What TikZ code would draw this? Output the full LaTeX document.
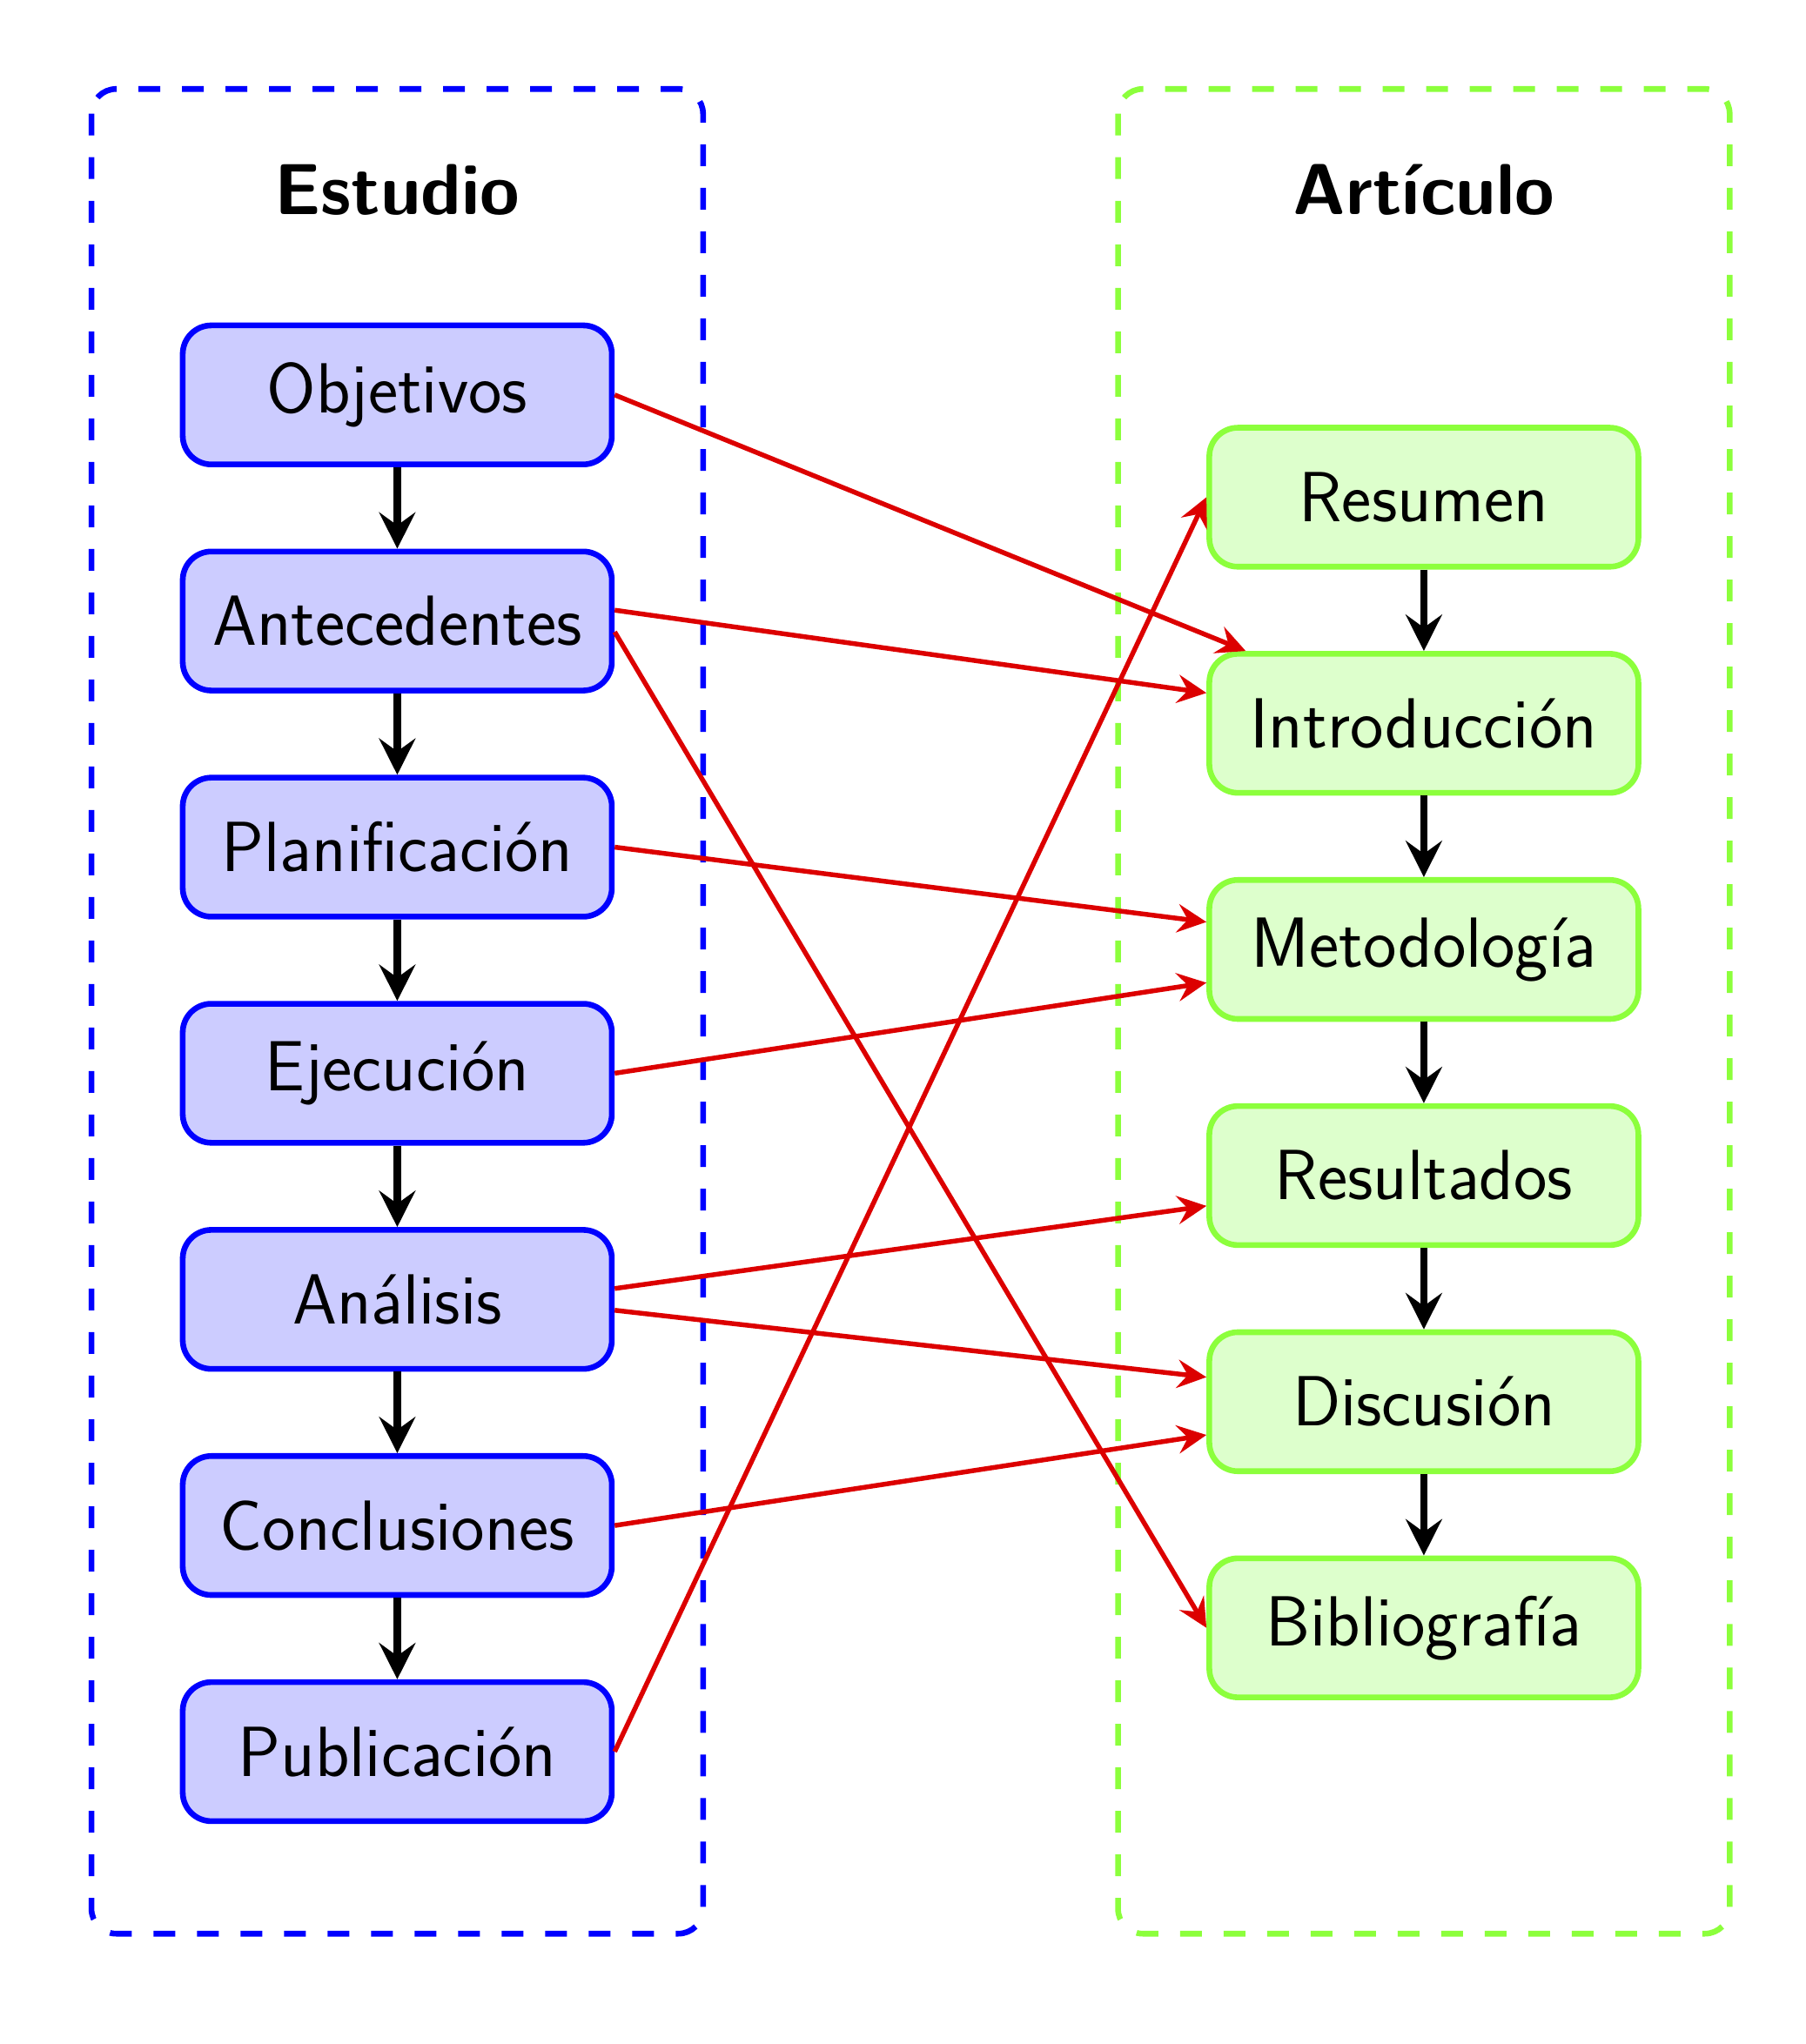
\documentclass[tikz,border=0pt]{standalone}
\usepackage{fontspec}
\usepackage{xcolor}
\usepackage{tikz}
\usetikzlibrary{arrows.meta}

\definecolor{verde}{RGB}{140,255,60}
\definecolor{verdeclaro}{RGB}{221,255,204}
\definecolor{rojo}{RGB}{220,0,0}

\begin{document}
\begin{tikzpicture}[
		caja/.style = {rectangle, rounded corners = 7.5pt, line width = 1.5pt, minimum width = 3.95cm, minimum height = 1.28cm, font = \fontsize{18.6}{22}\selectfont\sffamily},
		estudio/.style = {caja, draw = blue, fill = blue!20},
		articulo/.style = {caja, draw = verde, fill = verdeclaro},
		marco/.style = {line width = 1.5pt, dash pattern = on 5.7pt off 5.7pt, rounded corners = 6.5pt},
		titulo/.style = {font = \fontsize{18.9}{22}\selectfont\sffamily\bfseries, anchor = base},
		paso/.style = {line width = 2pt, -{Stealth[length = 9.5pt, width = 9.5pt, inset = 3.4pt]}},
		enlace/.style = {rojo, line width = 1.25pt, -{Stealth[length = 7.6pt, width = 7.4pt, inset = 2.7pt]}}
	]
		\def\h{2.082};
		\def\x{9.45};
		\def\r{0.942};
		
		\useasboundingbox (-3.657,3.636) rectangle (12.963,-15.184);
		
		\draw [marco, blue] (-2.815,2.817) rectangle (2.815,-14.168);
		\draw [marco, verde] ({\x - 2.815},2.817) rectangle ({\x + 2.815},-14.168);
		
		\node [titulo] (est) at (0,1.659) {Estudio};
		\node [titulo] (art) at (\x,1.659) {Artículo};
		
		\node [estudio] (obj) at (0,0) {Objetivos};
		\node [estudio] (ant) at (0,{-\h}) {Antecedentes};
		\node [estudio] (pla) at (0,{-2*\h}) {Planificación};
		\node [estudio] (eje) at (0,{-3*\h}) {Ejecución};
		\node [estudio] (ana) at (0,{-4*\h}) {Análisis};
		\node [estudio] (con) at (0,{-5*\h}) {Conclusiones};
		\node [estudio] (pub) at (0,{-6*\h}) {Publicación};
		
		\node [articulo] (resu) at (\x,{-\r}) {Resumen};
		\node [articulo] (intro) at (\x,{-\r - \h}) {Introducción};
		\node [articulo] (met) at (\x,{-\r - 2*\h}) {Metodología};
		\node [articulo] (resul) at (\x,{-\r - 3*\h}) {Resultados};
		\node [articulo] (disc) at (\x,{-\r - 4*\h}) {Discusión};
		\node [articulo] (bib) at (\x,{-\r - 5*\h}) {Bibliografía};
		
		\begin{scope}[paso]
			\draw (obj) -- (ant);
			\draw (ant) -- (pla);
			\draw (pla) -- (eje);
			\draw (eje) -- (ana);
			\draw (ana) -- (con);
			\draw (con) -- (pub);
			\draw (resu) -- (intro);
			\draw (intro) -- (met);
			\draw (met) -- (resul);
			\draw (resul) -- (disc);
			\draw (disc) -- (bib);
		\end{scope}
		
		\begin{scope}[enlace]
			\draw (obj.east) -- (intro);
			\draw ([yshift = 1mm] ant.east) -- (intro);
			\draw ([yshift = -1mm] ant.east) -- (bib.west);
			\draw (pla.east) -- (met);
			\draw (eje.east) -- (met);
			\draw ([yshift = 1mm] ana.east) -- (resul);
			\draw ([yshift = -1mm] ana.east) -- (disc);
			\draw (con.east) -- (disc);
			\draw (pub.east) -- (resu.west);
		\end{scope}
	\end{tikzpicture}
\end{document}
